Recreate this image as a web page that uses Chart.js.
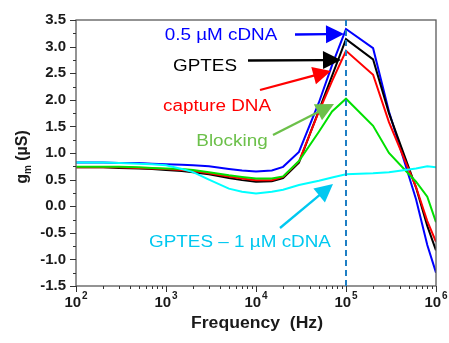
<!DOCTYPE html>
<html>
<head>
<meta charset="utf-8">
<script src="https://cdn.jsdelivr.net/npm/chart.js@4.4.0/dist/chart.umd.min.js"></script>
<style>
    html, body { margin: 0; padding: 0; background: #fff; }
</style>
</head>
<body>
<canvas id="myChart" width="449" height="343"></canvas>
<script>
// Frequency (Hz) and transconductance gm (µS)
const frequencies = [100, 200, 300, 500, 700, 1000, 1500, 2000, 3000, 5000, 7000, 10000,
    15000, 20000, 30000, 50000, 70000, 100000, 200000, 300000, 600000, 800000, 1000000];
const cdnaValues = [0.82, 0.82, 0.81, 0.81, 0.80, 0.79, 0.78, 0.77, 0.75, 0.70, 0.67, 0.65,
    0.67, 0.74, 1.02, 1.95, 2.65, 3.33, 2.97, 1.78, 0.13, -0.73, -1.25];
const gptesValues = [0.73, 0.73, 0.72, 0.71, 0.70, 0.68, 0.66, 0.64, 0.60, 0.53, 0.49, 0.46,
    0.47, 0.53, 0.82, 1.80, 2.45, 3.14, 2.76, 1.75, 0.35, -0.37, -0.83];
const captureValues = [0.73, 0.73, 0.73, 0.72, 0.71, 0.70, 0.68, 0.66, 0.62, 0.56, 0.52, 0.49,
    0.49, 0.55, 0.84, 1.78, 2.35, 2.92, 2.47, 1.58, 0.36, -0.28, -0.67];
const blockingValues = [0.74, 0.74, 0.74, 0.73, 0.72, 0.71, 0.70, 0.68, 0.64, 0.58, 0.55, 0.52,
    0.52, 0.56, 0.85, 1.40, 1.78, 2.02, 1.51, 1.00, 0.46, 0.18, -0.30];
const gptes1uMValues = [0.82, 0.82, 0.81, 0.80, 0.79, 0.77, 0.70, 0.64, 0.50, 0.33, 0.27, 0.24,
    0.27, 0.31, 0.40, 0.48, 0.54, 0.60, 0.62, 0.64, 0.71, 0.75, 0.73];
const yTicks = [-1.5, -1.0, -0.5, 0.0, 0.5, 1.0, 1.5, 2.0, 2.5, 3.0, 3.5];
const xDecades = [2, 3, 4, 5, 6];
const markerFrequency = 100000;

const FONT = '"Liberation Sans", Arial, sans-serif';

// text labels and arrows (pixel positions on the canvas)
const notes = [
    { text: '0.5 \u00b5M cDNA', color: '#0000ff', x: 221, y: 36, from: [295, 34.5], to: [344, 34] },
    { text: 'GPTES', color: '#000000', x: 205, y: 67, from: [248, 60.5], to: [341, 60] },
    { text: 'capture DNA', color: '#ff0000', x: 217, y: 107, from: [260, 90], to: [331, 71] },
    { text: 'Blocking', color: '#6cc04a', x: 232, y: 142, from: [273, 135], to: [334, 104] },
    { text: 'GPTES \u2013 1 \u00b5M cDNA', color: '#00c8f0', x: 240, y: 243, from: [280, 228], to: [333, 184] }
];

function wideText(ctx, text, cx, cy, font, color, stretch) {
    ctx.save();
    ctx.translate(cx, cy);
    ctx.scale(stretch, 1);
    ctx.font = font;
    ctx.fillStyle = color;
    ctx.textAlign = 'center';
    ctx.textBaseline = 'middle';
    ctx.fillText(text, 0, 0);
    ctx.restore();
}

function arrow(ctx, from, to, color) {
    const ang = Math.atan2(to[1] - from[1], to[0] - from[0]);
    const headLen = 18, headHalf = 9;
    const bx = to[0] - headLen * Math.cos(ang);
    const by = to[1] - headLen * Math.sin(ang);
    ctx.strokeStyle = color;
    ctx.fillStyle = color;
    ctx.lineWidth = 2.3;
    ctx.beginPath();
    ctx.moveTo(from[0], from[1]);
    ctx.lineTo(bx + 2 * Math.cos(ang), by + 2 * Math.sin(ang));
    ctx.stroke();
    ctx.beginPath();
    ctx.moveTo(to[0], to[1]);
    ctx.lineTo(bx + headHalf * Math.sin(ang), by - headHalf * Math.cos(ang));
    ctx.lineTo(bx - headHalf * Math.sin(ang), by + headHalf * Math.cos(ang));
    ctx.closePath();
    ctx.fill();
}

const decorPlugin = {
    id: 'decor',
    afterDraw(chart) {
        const ctx = chart.ctx;
        const area = chart.chartArea;
        const xs = chart.scales.x;
        const ys = chart.scales.y;
        ctx.save();

        // frame
        ctx.strokeStyle = '#5a5a5a';
        ctx.lineWidth = 1.3;
        ctx.strokeRect(area.left, area.top, area.right - area.left, area.bottom - area.top);

        // y ticks (major + minor), pointing out
        ctx.strokeStyle = '#333';
        ctx.lineWidth = 1;
        for (let v = -1.5; v <= 3.5001; v += 0.25) {
            const py = Math.round(ys.getPixelForValue(v)) + 0.5;
            const major = Math.abs(v * 2 - Math.round(v * 2)) < 1e-6;
            ctx.beginPath();
            ctx.moveTo(area.left, py);
            ctx.lineTo(area.left - (major ? 6 : 3), py);
            ctx.stroke();
        }
        // x ticks (decades + minor)
        for (let d = 2; d <= 6; d++) {
            for (let m = 1; m <= 9; m++) {
                if (d === 6 && m > 1) break;
                const px = Math.round(xs.getPixelForValue(m * Math.pow(10, d))) + 0.5;
                ctx.beginPath();
                ctx.moveTo(px, area.bottom);
                ctx.lineTo(px, area.bottom + (m === 1 ? 6 : 3));
                ctx.stroke();
            }
        }

        // x tick labels 10^n
        ctx.fillStyle = '#1a1a1a';
        ctx.textBaseline = 'alphabetic';
        ctx.textAlign = 'left';
        xDecades.forEach(d => {
            const px = xs.getPixelForValue(Math.pow(10, d));
            ctx.font = 'bold 15px ' + FONT;
            const w1 = ctx.measureText('10').width;
            ctx.font = 'bold 10px ' + FONT;
            const w2 = ctx.measureText(String(d)).width;
            const x0 = px - (w1 + w2 + 1) / 2;
            ctx.font = 'bold 15px ' + FONT;
            ctx.fillText('10', x0, area.bottom + 21);
            ctx.font = 'bold 10px ' + FONT;
            ctx.fillText(String(d), x0 + w1 + 1, area.bottom + 13);
        });

        // axis titles
        wideText(ctx, 'Frequency  (Hz)', 257, 324, 'bold 16px ' + FONT, '#1a1a1a', 1.1);

        ctx.save();
        ctx.translate(23, 157);
        ctx.rotate(-Math.PI / 2);
        ctx.fillStyle = '#1a1a1a';
        ctx.textBaseline = 'middle';
        ctx.textAlign = 'left';
        ctx.font = 'bold 16px ' + FONT;
        const wg = ctx.measureText('g').width;
        const wr = ctx.measureText(' (\u00b5S)').width;
        ctx.font = 'bold 10px ' + FONT;
        const wm = ctx.measureText('m').width;
        const tx = -(wg + wm + wr) / 2;
        ctx.font = 'bold 16px ' + FONT;
        ctx.fillText('g', tx, 0);
        ctx.font = 'bold 10px ' + FONT;
        ctx.fillText('m', tx + wg, 5);
        ctx.font = 'bold 16px ' + FONT;
        ctx.fillText(' (\u00b5S)', tx + wg + wm, 0);
        ctx.restore();

        // dashed marker at 10^5
        const mx = xs.getPixelForValue(markerFrequency);
        ctx.strokeStyle = '#1f7fc4';
        ctx.lineWidth = 2;
        ctx.setLineDash([6, 4]);
        ctx.beginPath();
        ctx.moveTo(mx, area.top);
        ctx.lineTo(mx, area.bottom);
        ctx.stroke();
        ctx.setLineDash([]);

        // labels and arrows
        notes.forEach(n => {
            wideText(ctx, n.text, n.x, n.y, '16px ' + FONT, n.color, 1.18);
            arrow(ctx, n.from, n.to, n.color);
        });

        ctx.restore();
    }
};

function series(label, values, color) {
    return {
        label: label,
        data: values,
        borderColor: color,
        backgroundColor: color,
        borderWidth: 2,
        pointRadius: 0,
        tension: 0,
        fill: false
    };
}

const myChart = new Chart('myChart', {
    type: 'line',
    data: {
        labels: frequencies,
        datasets: [
            series('GPTES \u2013 1 \u00b5M cDNA', gptes1uMValues, '#00ffff'),
            series('Blocking', blockingValues, '#00e000'),
            series('capture DNA', captureValues, '#ff0000'),
            series('GPTES', gptesValues, '#000000'),
            series('0.5 \u00b5M cDNA', cdnaValues, '#0000ff')
        ]
    },
    options: {
        responsive: false,
        animation: false,
        devicePixelRatio: 1,
        layout: { padding: { top: 20, right: 13, left: 0, bottom: 0 } },
        plugins: {
            legend: { display: false },
            tooltip: { enabled: false }
        },
        scales: {
            x: {
                type: 'logarithmic',
                min: 100,
                max: 1000000,
                grid: { display: false },
                border: { display: false },
                ticks: { display: false },
                afterFit: scale => { scale.height = 57; }
            },
            y: {
                type: 'linear',
                min: -1.5,
                max: 3.5,
                grid: { display: false, drawTicks: false },
                border: { display: false },
                afterBuildTicks: scale => { scale.ticks = yTicks.map(v => ({ value: v })); },
                ticks: {
                    padding: 10,
                    color: '#1a1a1a',
                    font: { family: FONT, size: 15, weight: 'bold' },
                    callback: v => v.toFixed(1)
                },
                afterFit: scale => { scale.width = 76; }
            }
        }
    },
    plugins: [decorPlugin]
});
</script>
</body>
</html>
